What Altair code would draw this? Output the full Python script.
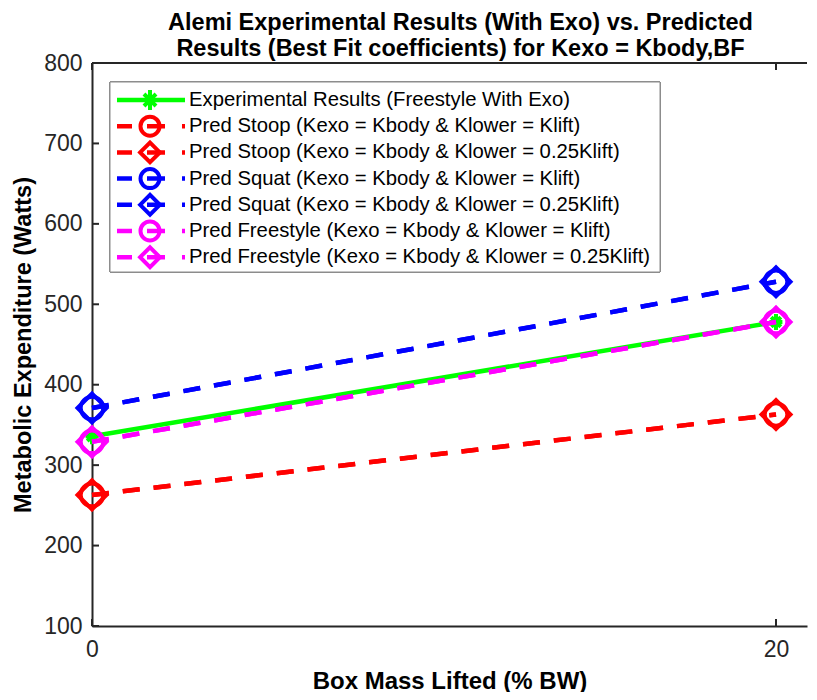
import altair as alt
import pandas as pd

# ---- data ----
x_vals = [0, 20]
exp_with_exo = [336, 478]
stoop_klift = [263, 363]
stoop_025 = [263, 363]
squat_klift = [371, 528]
squat_025 = [371, 528]
free_klift = [329, 478]
free_025 = [329, 478]

labels = [
    "Experimental Results (Freestyle With Exo)",
    "Pred Stoop (Kexo = Kbody & Klower = Klift)",
    "Pred Stoop (Kexo = Kbody & Klower = 0.25Klift)",
    "Pred Squat (Kexo = Kbody & Klower = Klift)",
    "Pred Squat (Kexo = Kbody & Klower = 0.25Klift)",
    "Pred Freestyle (Kexo = Kbody & Klower = Klift)",
    "Pred Freestyle (Kexo = Kbody & Klower = 0.25Klift)",
]
series_values = [exp_with_exo, stoop_klift, stoop_025, squat_klift, squat_025, free_klift, free_025]
colors = ["#00ff00", "#ff0000", "#ff0000", "#0000ff", "#0000ff", "#ff00ff", "#ff00ff"]
markers = ["asterisk", "circle", "diamond", "circle", "diamond", "circle", "diamond"]
dashed = [False, True, True, True, True, True, True]

x_ticks = [0, 20]
y_ticks = [100, 200, 300, 400, 500, 600, 700, 800]

# ---- styling ----
W, H = 715, 563
FONT = "Liberation Sans"
ASTERISK = "M-0.8,0L0.8,0M0,-1L0,1M-0.6,-0.6L0.6,0.6M-0.6,0.6L0.6,-0.6"
shape_of = {"asterisk": ASTERISK, "circle": "circle", "diamond": "diamond"}
size_of = {"asterisk": 256, "circle": 511, "diamond": 841}
legend_size_of = {"asterisk": 400, "circle": 361, "diamond": 390}

rows = []
for lab, vals in zip(labels, series_values):
    for xv, yv in zip(x_vals, vals):
        rows.append({"series": lab, "x": xv, "y": yv})
df = pd.DataFrame(rows)

legend_df = pd.DataFrame({"series": labels, "row": list(range(len(labels)))})

xscale = alt.Scale(domain=[0, 20.906], nice=False, zero=False)
yscale = alt.Scale(domain=[100, 800], nice=False, zero=False)
rowscale = alt.Scale(domain=[-1.412, 20.077], reverse=True, nice=False, zero=False)
xaxis = alt.Axis(values=x_ticks, title="Box Mass Lifted (% BW)", tickSize=0, labelPadding=12,
                 grid=False, domainColor="#262626", domainWidth=2, labelFontSize=23,
                 labelFont=FONT, labelColor="#262626", titleFont=FONT, titleFontSize=24,
                 titleFontWeight="bold", titleColor="black", titlePadding=8, labelFlush=False)
yaxis = alt.Axis(values=y_ticks, title="Metabolic Expenditure (Watts)", tickSize=0, labelPadding=10,
                 grid=False, domainColor="#262626", domainWidth=2, labelFontSize=23,
                 labelFont=FONT, labelColor="#262626", titleFont=FONT, titleFontSize=23.5,
                 titleFontWeight="bold", titleColor="black", titlePadding=8, labelFlush=False)


def X(field):
    return alt.X(field, type="quantitative", scale=xscale, axis=xaxis)


def Y(field):
    return alt.Y(field, type="quantitative", scale=yscale, axis=yaxis)


def R(field):
    return alt.Y(field, type="quantitative", scale=rowscale, axis=None)


main_layers = []

# frame top line and inward ticks
ytick_df = pd.DataFrame({"v": y_ticks})
xtick_df = pd.DataFrame({"v": x_ticks})
main_layers.append(alt.Chart(ytick_df).mark_rule(color="#262626", strokeWidth=2).encode(
    y=Y("v"), x=alt.value(0), x2=alt.value(7)))
main_layers.append(alt.Chart(xtick_df).mark_rule(color="#262626", strokeWidth=2).encode(
    x=X("v"), y=alt.value(H), y2=alt.value(H - 7)))
main_layers.append(alt.Chart(xtick_df).mark_rule(color="#262626", strokeWidth=2).encode(
    x=X("v"), y=alt.value(0), y2=alt.value(7)))
main_layers.append(alt.Chart(xtick_df).mark_rule(color="#262626", strokeWidth=2).encode(
    y=alt.value(0), x=alt.value(0), x2=alt.value(W)))

for lab, col, mk, dsh in zip(labels, colors, markers, dashed):
    base = alt.Chart(df).transform_filter(alt.datum.series == lab)
    line_kw = dict(color=col, strokeWidth=4.5, strokeCap="butt")
    if dsh:
        line_kw["strokeDash"] = [17, 14]
    main_layers.append(base.mark_line(**line_kw).encode(x=X("x"), y=Y("y")))
    main_layers.append(base.mark_point(shape=shape_of[mk], size=size_of[mk], filled=False,
                                       color=col, strokeWidth=4, opacity=1).encode(x=X("x"), y=Y("y")))

# ---- legend (drawn inside the plot, MATLAB style) ----
leg_layers = [
    alt.Chart(legend_df).mark_rect(fill="white", stroke="#8c8c8c", strokeWidth=1).encode(
        x=alt.value(18), x2=alt.value(568), y=alt.value(19), y2=alt.value(209))
]
for lab, col, mk, dsh in zip(labels, colors, markers, dashed):
    lbase = alt.Chart(legend_df).transform_filter(alt.datum.series == lab)
    rule_kw = dict(color=col, strokeWidth=4.5, strokeCap="butt")
    if dsh:
        rule_kw["strokeDash"] = [15, 15, 18, 17, 3, 40]
    leg_layers.append(lbase.mark_rule(**rule_kw).encode(
        y=R("row"), x=alt.value(25), x2=alt.value(93)))
    leg_layers.append(lbase.mark_point(shape=shape_of[mk], size=legend_size_of[mk], filled=False,
                                       color=col, strokeWidth=4, opacity=1).encode(
        y=R("row"), x=alt.value(58)))
leg_layers.append(
    alt.Chart(legend_df).mark_text(align="left", baseline="middle", font=FONT, fontSize=20.3,
                                   color="black").encode(
        y=R("row"), x=alt.value(97), text="series:N"))

main = alt.layer(*main_layers)
leg = alt.layer(*leg_layers)

chart = alt.layer(main, leg).resolve_scale(y="independent").properties(
    width=W, height=H,
    title=alt.TitleParams(
        text=["Alemi Experimental Results (With Exo) vs. Predicted",
              "Results (Best Fit coefficients) for Kexo = Kbody,BF"],
        font=FONT, fontSize=23.5, fontWeight="bold", color="black", anchor="middle",
        lineHeight=26.5, offset=2, dx=11, dy=10.5),
    autosize=alt.AutoSizeParams(type="none"),
    padding={"left": 84, "top": 55, "right": 2, "bottom": 66},
).configure_view(stroke=None)

chart.save("out.html", embed_options={"renderer": "svg", "actions": False})
